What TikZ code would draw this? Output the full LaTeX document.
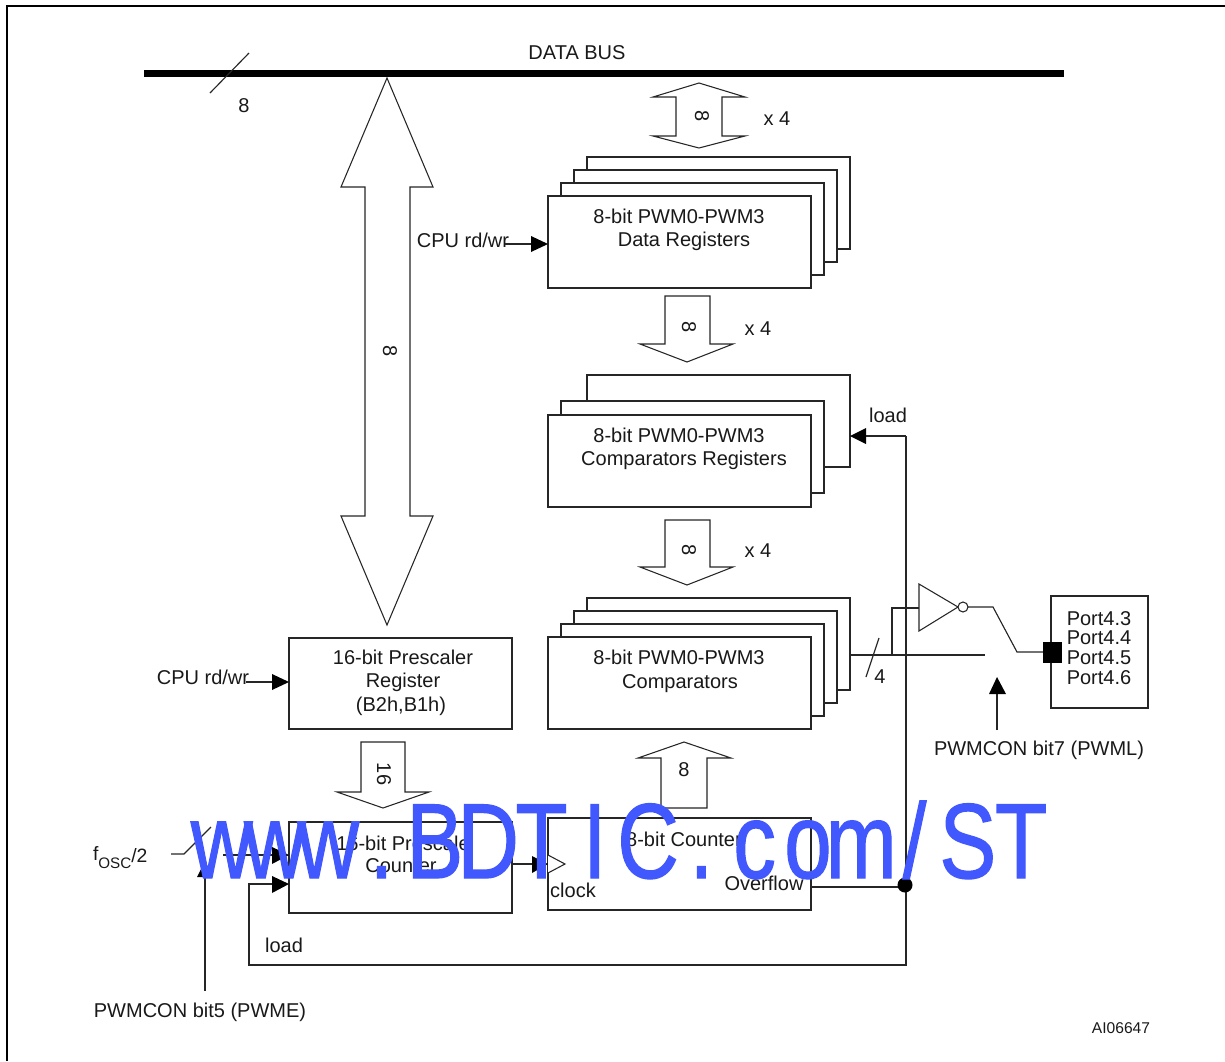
\documentclass[tikz,border=0pt]{standalone}
\usepackage{fontspec}
\usepackage{graphicx}
\setmainfont{Liberation Sans}
\newfontfamily\wmfont[FakeBold=1.2]{Liberation Sans}
\definecolor{wm}{RGB}{66,88,255}
\newlength{\wmu}\setlength{\wmu}{0.75pt}
\newcommand{\wmch}[1]{\makebox[53.3\wmu][c]{\scalebox{0.8}[1]{#1}}}
\tikzset{
  x=0.75pt,y=-0.75pt,
  every node/.style={inner sep=0pt,outer sep=0pt},
  ln/.style={draw=black!85,line width=0.85pt},
  txt/.style={font=\fontsize{15}{18}\selectfont,text=black!90,align=center,text height=10.5pt,text depth=0pt},
  fillw/.style={draw=black!85,line width=0.8pt,fill=white},
  head/.style={fill=black,draw=none},
}
\begin{document}
\begin{tikzpicture}
\useasboundingbox (0,0) rectangle (1225,1061);
% frame
\draw[line width=2.1pt] (7,1061) -- (7,6) -- (1225,6);
% bus
\fill[black] (144,70) rectangle (1064,77);
\draw[ln] (210,93) -- (249,53);
\node[txt] (bus) at (577,52) {DATA BUS};
\node[txt] (b8) at (244,105) {8};
% big double arrow
\draw[fillw] (387,78) -- (433,187) -- (410,187) -- (410,516) -- (433,516) -- (387,625) -- (341,516) -- (365,516) -- (365,187) -- (341,187) -- cycle;
\node[txt,rotate=-90] (big8) at (390,351) {8};
% small double arrow
\draw[fillw] (699,83) -- (745,97) -- (722,97) -- (722,136) -- (745,136) -- (699,148) -- (653,136) -- (676,136) -- (676,97) -- (653,97) -- cycle;
\node[txt,rotate=-90] (d8) at (702,116) {8};
\node[txt] (x1) at (777,118) {x 4};
% data registers
\foreach \i in {3,2,1}{\draw[fillw] ({548+13*\i},{196-13*\i}) rectangle ({811+13*\i},{288-13*\i});}
\node[fillw,minimum width=197.25pt,minimum height=69pt,anchor=north west] (dr) at (548,196) {};
\node[txt] at (679,216) {8-bit PWM0-PWM3};
\node[txt] at (684,239) {Data Registers};
\node[txt] (cpu1) at (463,240) {CPU rd/wr};
\coordinate (c1s) at (505,244);
\draw[ln] (c1s) -- (532,244);
\fill[head] (548,244) -- (531,236) -- (531,252) -- cycle;
% down arrow 1
\draw[fillw] (665,296) -- (710,296) -- (710,344) -- (733,344) -- (687,362) -- (640,344) -- (665,344) -- cycle;
\node[txt,rotate=-90] at (689,327) {8};
\node[txt] at (758,328) {x 4};
% comparators registers
\draw[fillw] (587,375) rectangle (850,467);
\draw[fillw] (561,401) rectangle (824,493);
\node[fillw,minimum width=197.25pt,minimum height=69pt,anchor=north west] (cr) at (548,415) {};
\node[txt] at (679,435) {8-bit PWM0-PWM3};
\node[txt] at (684,458) {Comparators Registers};
% down arrow 2
\draw[fillw] (665,520) -- (710,520) -- (710,567) -- (733,567) -- (687,585) -- (640,567) -- (665,567) -- cycle;
\node[txt,rotate=-90] at (689,550) {8};
\node[txt] at (758,550) {x 4};
% comparators
\foreach \i in {3,2,1}{\draw[fillw] ({548+13*\i},{637-13*\i}) rectangle ({811+13*\i},{729-13*\i});}
\node[fillw,minimum width=197.25pt,minimum height=69pt,anchor=north west] (cp) at (548,637) {};
\node[txt] at (679,657) {8-bit PWM0-PWM3};
\node[txt] at (680,681) {Comparators};
% prescaler register
\node[fillw,minimum width=167.25pt,minimum height=68.25pt,anchor=north west] (pr) at (289,638) {};
\node[txt] at (403,657) {16-bit Prescaler};
\node[txt] at (403,680) {Register};
\node[txt] at (401,704) {(B2h,B1h)};
\node[txt] (cpu2) at (203,677) {CPU rd/wr};
\draw[ln] (246,682) -- (274,682);
\fill[head] (289,682) -- (272,674) -- (272,690) -- cycle;
% 16 arrow
\draw[fillw] (361,742) -- (405,742) -- (405,792) -- (429,792) -- (383,808) -- (337,792) -- (361,792) -- cycle;
\node[txt,rotate=-90] at (384,774) {16};
% prescale counter
\node[fillw,minimum width=167.25pt,minimum height=68.25pt,anchor=north west] (pc) at (289,822) {};
\node[txt] at (403,843) {16-bit Prescale};
\node[txt] at (401,865) {Counter};
% counter
\node[fillw,minimum width=197.25pt,minimum height=69pt,anchor=north west] (ct) at (548,818) {};
\node[txt] at (684,839) {8-bit Counter};
\node[txt] at (573,890) {clock};
\node[txt] at (764,883) {Overflow};
\draw[fillw] (548,855) -- (565,864) -- (548,873);
\draw[ln] (512,864) -- (535,864);
\fill[head] (548,864) -- (532,856) -- (532,873) -- cycle;
% up arrow 8
\draw[fillw] (661,808) -- (661,758) -- (638,758) -- (684,742) -- (731,758) -- (707,758) -- (707,808) -- cycle;
\node[txt] at (684,769) {8};
% fosc
\node[font=\fontsize{14.5}{18}\selectfont,text=black!90,anchor=base west] (fosc) at (93,862) {\raisebox{1.5pt}{f}\raisebox{-4.5pt}{\fontsize{11.4}{14}\selectfont OSC}/2};
\draw[ln] (171,854) -- (184,854) -- (211,827);
\draw[ln] (223,855) -- (274,855);
\fill[head] (289,855) -- (272,847) -- (272,864) -- cycle;
% PWME
\draw[ln] (205,991) -- (205,875);
\fill[head] (205,861) -- (197,877) -- (213,877) -- cycle;
\node[txt] at (200,1010) {PWMCON bit5 (PWME)};
% load feedback
\node[txt] at (284,945) {load};
\draw[ln] (906,436) -- (906,965) -- (249,965) -- (249,884) -- (274,884);
\fill[head] (289,884) -- (272,876) -- (272,893) -- cycle;
\draw[ln] (811,887) -- (906,887);
\fill[black] (905,885) circle (7.5);
\draw[ln] (906,436) -- (864,436);
\fill[head] (850,436) -- (866,428) -- (866,444) -- cycle;
\node[txt] at (888,415) {load};
% output
\draw[ln] (850,655) -- (985,655);
\draw[ln] (879,638) -- (866,677);
\node[txt] at (880,676) {4};
\draw[ln] (892,655) -- (892,608) -- (919,608);
\draw[fillw] (919,584) -- (958,607) -- (919,631) -- cycle;
\draw[fillw] (963,607) circle (5);
\draw[ln] (968,607) -- (993,607) -- (1017,652) -- (1043,652);
\node[fillw,minimum width=72.75pt,minimum height=84pt,anchor=north west] (port) at (1051,596) {};
\fill[black] (1043,642) rectangle (1062,663);
\node[txt] at (1099,618) {Port4.3};
\node[txt] at (1099,637) {Port4.4};
\node[txt] at (1099,657) {Port4.5};
\node[txt] at (1099,677) {Port4.6};
\draw[ln] (997,730) -- (997,692);
\fill[head] (997,677) -- (989,694) -- (1006,694) -- cycle;
\node[txt] at (1039,748) {PWMCON bit7 (PWML)};
\node[font=\fontsize{11.7}{14}\selectfont,text=black!90] at (1121,1028) {AI06647};
% watermark
\node[font=\fontsize{80}{90}\wmfont,text=wm,anchor=base west] (wmk) at (195,878) {\wmch{w}\wmch{w}\wmch{w}\wmch{.}\wmch{B}\wmch{D}\wmch{T}\wmch{I}\wmch{C}\wmch{.}\wmch{c}\wmch{o}\wmch{m}\wmch{/}\wmch{S}\wmch{T}};
\end{tikzpicture}
\end{document}
